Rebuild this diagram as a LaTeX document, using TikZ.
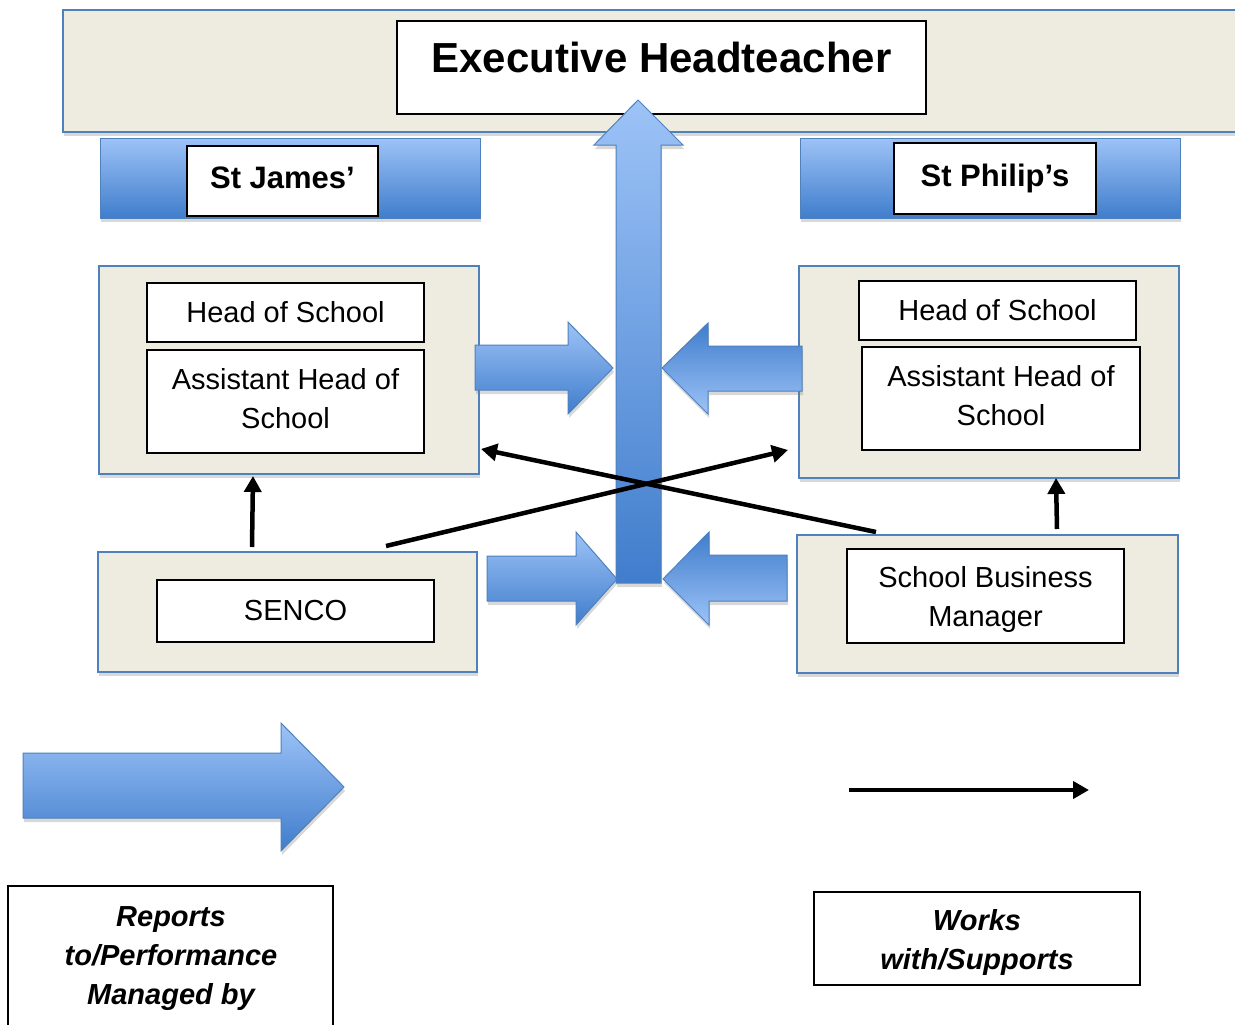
\documentclass[tikz,border=0pt]{standalone}
\usepackage{fontspec}
\setmainfont{Liberation Sans}
\usetikzlibrary{arrows.meta,shadows,calc}
\definecolor{beige}{RGB}{238,236,225}
\definecolor{bord}{RGB}{79,129,189}
\definecolor{bl}{RGB}{157,195,247}
\definecolor{bd}{RGB}{64,125,204}
\begin{document}
\begin{tikzpicture}[x=1pt,y=-1pt,
  cont/.style={draw=bord, line width=1.5pt, fill=beige, inner sep=0pt, outer sep=0pt},
  wbox/.style={draw=black, line width=1.2pt, fill=white, inner sep=0pt, outer sep=0pt, align=center, font=\fontsize{29}{39}\selectfont},
  txt/.style={align=center, inner sep=0pt, font=\fontsize{29}{39}\selectfont},
  band/.style={draw=bord, line width=1pt, top color=bl, bottom color=bd, inner sep=0pt, outer sep=0pt},
  upbl/.style={draw=bord, line width=1pt, top color=bl, bottom color=bd},
  dnbl/.style={draw=bord, line width=1pt, top color=bd, bottom color=bl},
  conn/.style={line width=4.5pt, -{Triangle[length=16pt,width=17pt]}},
  shad/.style={drop shadow={opacity=0.3, shadow xshift=1pt, shadow yshift=-4pt}},
  lbl/.style={align=center, inner sep=0pt, font=\fontsize{29}{39}\selectfont\bfseries\itshape}
]
\useasboundingbox (0,0) rectangle (1235,1025);
\fill[white] (0,0) rectangle (1235,1025);

% top banner and executive headteacher
\node[cont, shad, minimum width=1185pt, minimum height=122pt, anchor=north west] (banner) at (63,10) {};
\node[wbox, minimum width=529pt, minimum height=93pt, text height=30pt, text depth=19pt,
      font=\fontsize{42}{48}\selectfont\bfseries] (exec) at (661.5,67.5) {Executive Headteacher};

% school bands
\node[band, shad, minimum width=380pt, minimum height=80pt] (jamesband) at (290,178) {};
\node[wbox, minimum width=191pt, minimum height=70pt, text height=23pt, text depth=8pt,
      font=\fontsize{31}{36}\selectfont\bfseries] (james) at (282.5,181) {St James’};
\node[band, shad, minimum width=380pt, minimum height=80pt] (philipband) at (990,178) {};
\node[wbox, minimum width=202pt, minimum height=71pt, text height=23pt, text depth=8pt,
      font=\fontsize{31}{36}\selectfont\bfseries] (philip) at (995,178.5) {St Philip’s};

% containers
\node[cont, shad, minimum width=380pt, minimum height=208pt] (leftC) at (289,370) {};
\node[wbox, minimum width=277pt, minimum height=59pt] (hos1) at (285.5,312.5) {Head of School};
\node[wbox, minimum width=277pt, minimum height=103pt,
      label={[txt, yshift=3pt]center:Assistant Head of\\School}] (ahs1) at (285.5,401.5) {};

\node[cont, shad, minimum width=380pt, minimum height=212pt] (rightC) at (989,372) {};
\node[wbox, minimum width=277pt, minimum height=59pt] (hos2) at (997.5,310.5) {Head of School};
\node[wbox, minimum width=278pt, minimum height=103pt,
      label={[txt, yshift=3pt]center:Assistant Head of\\School}] (ahs2) at (1001,398.5) {};

\node[cont, shad, minimum width=379pt, minimum height=120pt] (sencoC) at (287.5,612) {};
\node[wbox, minimum width=277pt, minimum height=62pt] (senco) at (295.5,611) {SENCO};

\node[cont, shad, minimum width=381pt, minimum height=138pt] (sbmC) at (987.5,604) {};
\node[wbox, minimum width=277pt, minimum height=94pt,
      label={[txt, yshift=-3pt]center:School Business\\Manager}] (sbm) at (985.5,596) {};

% blue block arrows
\shade[upbl, shad] (475,345) -- (568,345) -- (568,322) -- (613,368) -- (568,414) -- (568,390) -- (475,390) -- cycle;
\shade[dnbl, shad] (802,346) -- (708,346) -- (708,323) -- (662,368) -- (708,414) -- (708,391) -- (802,391) -- cycle;
\shade[upbl, shad] (487,556) -- (576,556) -- (576,532) -- (617,579) -- (576,625) -- (576,601) -- (487,601) -- cycle;
\shade[dnbl, shad] (787,555) -- (709,555) -- (709,532) -- (663,579) -- (709,625) -- (709,601) -- (787,601) -- cycle;
\shade[upbl, shad] (616,583) -- (616,145) -- (594,145) -- (638,100) -- (683,145) -- (661,145) -- (661,583) -- cycle;

% black connectors
\draw[conn] ([xshift=-35.5pt,yshift=5pt]sencoC.north) -- ([xshift=-36pt,yshift=-2pt]leftC.south);
\draw[conn] ([xshift=69.5pt,yshift=6pt]sbmC.north) -- ([xshift=67pt]rightC.south);
\draw[conn] ([xshift=98.5pt,yshift=6pt]sencoC.north) -- ([xshift=-11pt,yshift=-78pt]rightC.west);
\draw[conn] ([xshift=-111.5pt,yshift=3pt]sbmC.north) -- ([xshift=2pt,yshift=-79pt]leftC.east);

% legend
\shade[upbl, shad] (23,753) -- (281,753) -- (281,723) -- (344,787) -- (281,851) -- (281,818) -- (23,818) -- cycle;
\coordinate (legA) at (849,790);
\coordinate (legB) at (1089,790);
\draw[conn] (legA) -- (legB);

\node[wbox, minimum width=325pt, minimum height=150pt, anchor=north west] (legL) at (8,886) {};
\node[lbl] (legLtext) at (171,959) {Reports\\to/Performance\\Managed by};
\node[wbox, minimum width=326pt, minimum height=93pt,
      label={[lbl, yshift=-4pt]center:Works\\with/Supports}] (legR) at (977,938.5) {};
\end{tikzpicture}
\end{document}
